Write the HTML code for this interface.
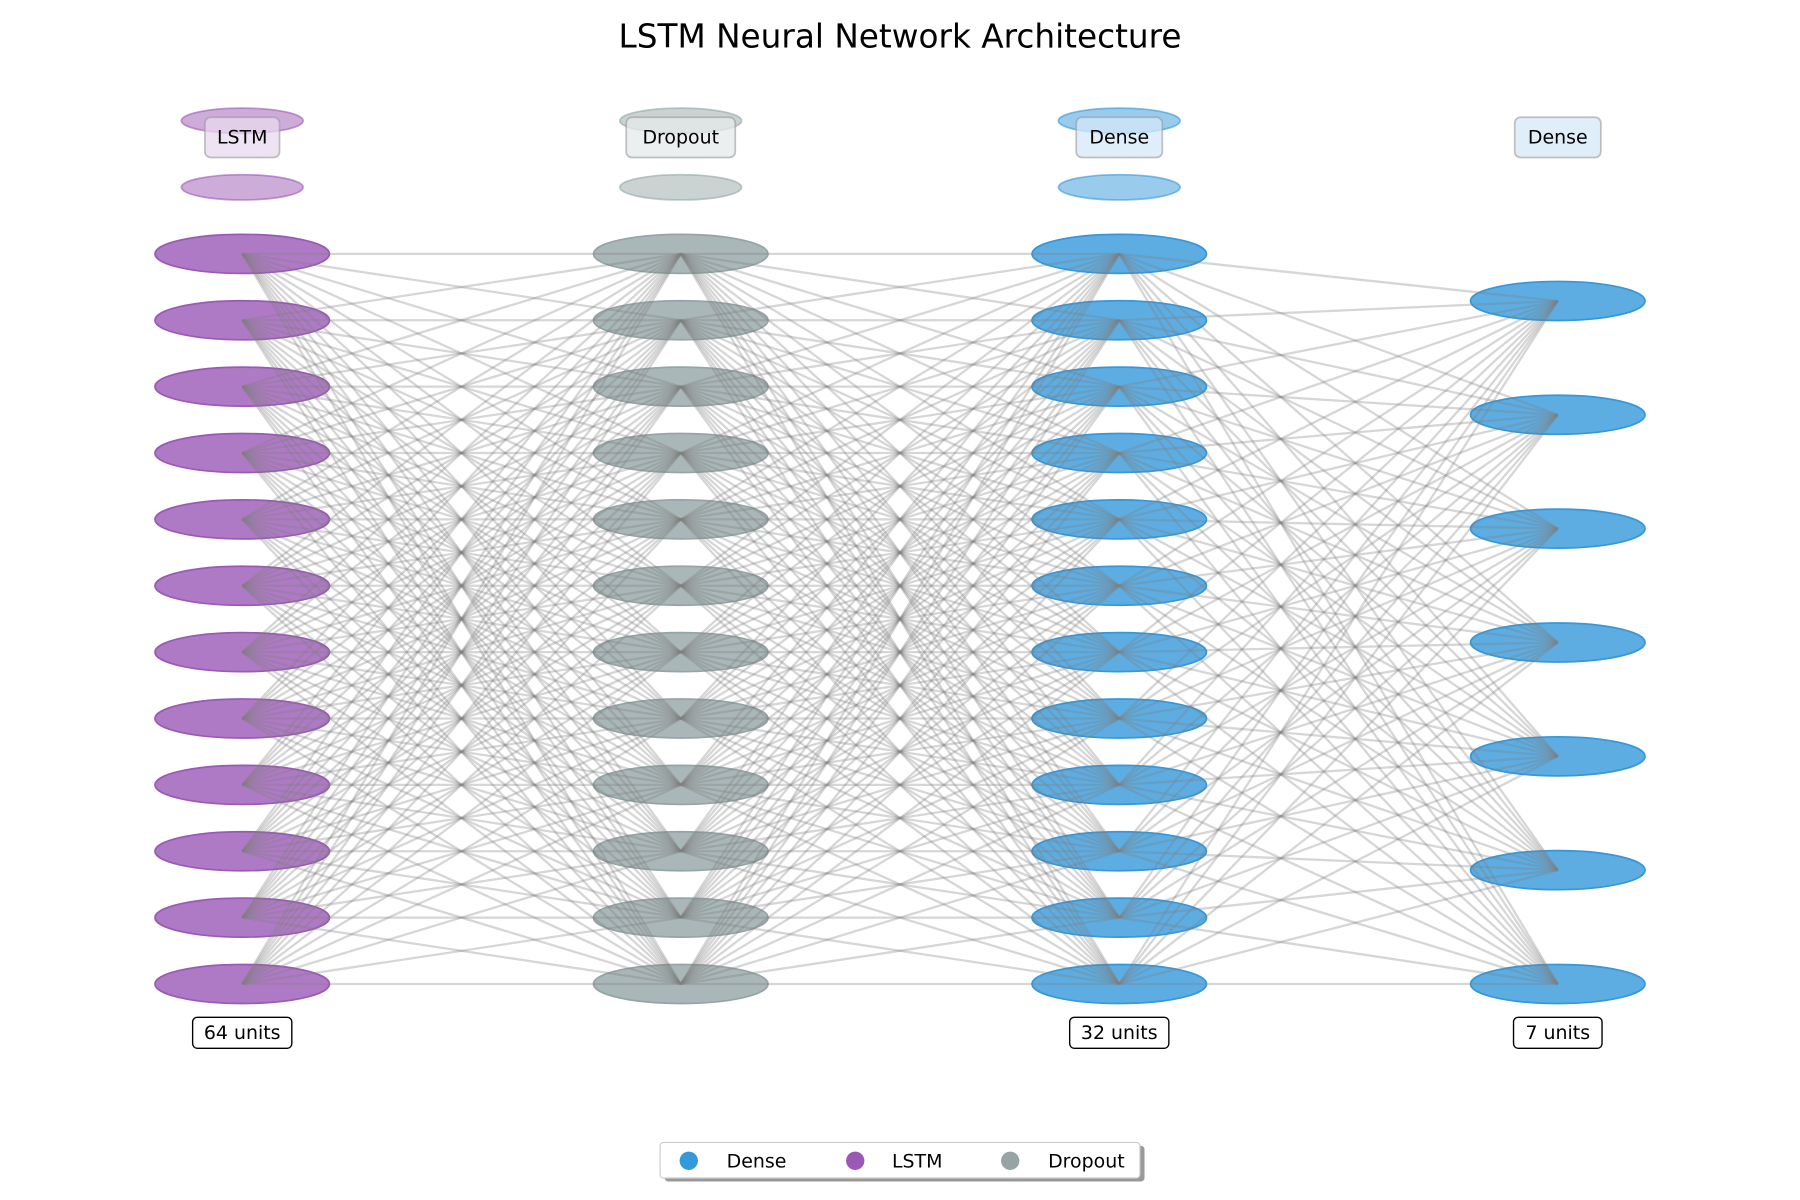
<!DOCTYPE html>
<html><head><meta charset="utf-8"><style>
html,body{margin:0;padding:0;background:#fff;}
svg{display:block;}
text{font-family:"DejaVu Sans","Liberation Sans",sans-serif;}
</style></head><body>
<svg id="s" width="1800" height="1200" viewBox="0 0 1568 1045" xmlns="http://www.w3.org/2000/svg">
<rect width="1568" height="1045" fill="#fff"/>
<text x="784" y="41" text-anchor="middle" font-size="28.5" fill="#000">LSTM Neural Network Architecture</text>
<g id="nodes"></g>
<g id="lines" stroke="#808080" stroke-opacity="0.32" stroke-width="2"></g>
<g id="labels"></g>
<g>
<rect x="579" y="998" width="418" height="31" rx="3" fill="#999"/>
<rect x="575" y="995" width="418" height="31" rx="3" fill="#fff" stroke="#ccc" stroke-width="1"/>
<circle cx="600" cy="1011" r="8" fill="#3498db"/>
<text x="633" y="1017" font-size="16.5">Dense</text>
<circle cx="745" cy="1011" r="8" fill="#9b59b6"/>
<text x="777" y="1017" font-size="16.5">LSTM</text>
<circle cx="880" cy="1011" r="8" fill="#95a5a6"/>
<text x="913" y="1017" font-size="16.5">Dropout</text>
</g>
</svg>
<script>
var NS="http://www.w3.org/2000/svg";
function el(p,t,a){var e=document.createElementNS(NS,t);for(var k in a)e.setAttribute(k,a[k]);p.appendChild(e);return e;}
var xs=[211,593,975,1357];
var cols=[["#9b59b6","#9b59b6"],["#95a5a6","#95a5a6"],["#3498db","#3498db"],["#3498db","#3498db"]];
var names=["LSTM","Dropout","Dense","Dense"];
var ys=[];
for(var l=0;l<4;l++){var a=[];
 if(l<3){for(var i=0;i<12;i++)a.push(221+i*(636/11));}
 else{for(var i=0;i<7;i++)a.push(262+i*(595/6));}
 ys.push(a);}
var N=document.getElementById("nodes"),L=document.getElementById("lines"),B=document.getElementById("labels");
for(var l=0;l<4;l++){
 if(l<3){[105,163].forEach(function(y){el(N,"ellipse",{cx:xs[l],cy:y,rx:53,ry:11,fill:cols[l][0],"fill-opacity":0.5,stroke:cols[l][1],"stroke-opacity":0.6,"stroke-width":1.5});});}
 ys[l].forEach(function(y){el(N,"ellipse",{cx:xs[l],cy:y,rx:76,ry:17,fill:cols[l][0],"fill-opacity":0.8,stroke:cols[l][1],"stroke-width":1.5});});
}
for(var l=0;l<3;l++){ys[l].forEach(function(y1){ys[l+1].forEach(function(y2){el(L,"line",{x1:xs[l],y1:y1,x2:xs[l+1],y2:y2});});});}
var lf=["#e8d9ee","#e6eaea","#d6e8f7","#d6e8f7"];
for(var l=0;l<4;l++){
 var w=names[l].length*10+25;
 el(B,"rect",{x:xs[l]-w/2,y:102,width:w,height:35,rx:5,fill:lf[l],"fill-opacity":0.75,stroke:"#999","stroke-opacity":0.6,"stroke-width":1.5});
 var t=el(B,"text",{x:xs[l],y:125,"text-anchor":"middle","font-size":16.5});t.textContent=names[l];
}
var u=[[0,"64 units"],[2,"32 units"],[3,"7 units"]];
u.forEach(function(p){var w=p[1].length*9.3+12;
 el(B,"rect",{x:xs[p[0]]-w/2,y:886,width:w,height:27,rx:4,fill:"#fff",stroke:"#000","stroke-width":1.2});
 var t=el(B,"text",{x:xs[p[0]],y:905,"text-anchor":"middle","font-size":16.5});t.textContent=p[1];});
</script>
</body></html>
